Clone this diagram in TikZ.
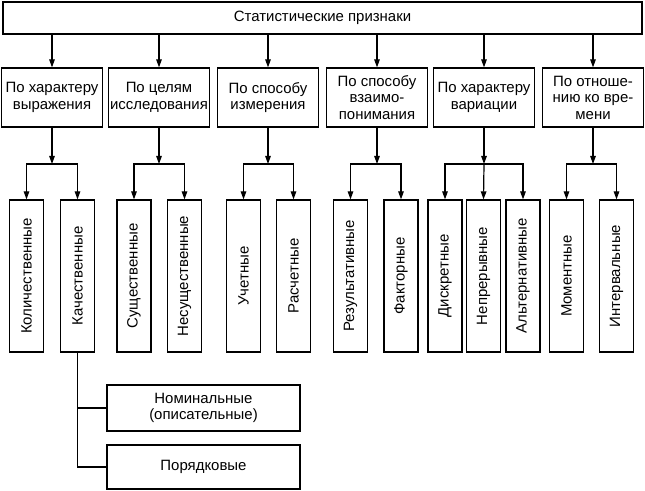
\documentclass[tikz,border=0pt]{standalone}
\usepackage{fontspec}
\setmainfont{Liberation Sans}
\usetikzlibrary{arrows.meta}
\tikzset{
  box/.style={draw, line width=1.2bp, inner sep=0pt, align=center,
    font=\fontsize{15}{16.5}\selectfont},
  pbox/.style={box, minimum width=101bp, minimum height=59bp},
  vbox/.style={box, rotate=90, minimum width=152bp, minimum height=34bp},
  hbox/.style={box, minimum width=193bp},
  link/.style={line width=1.2bp},
  arr/.style={link, -{Triangle[length=8bp,width=5.5bp]}}
}
\begin{document}
\begin{tikzpicture}[x=1bp, y=-1bp]
  \useasboundingbox (0,0) rectangle (645,491);

  % Корень
  \node[box, minimum width=639bp, minimum height=32bp] (root) at (322.5,18) {Статистические признаки};

  % Основания группировки
  \node[pbox] (expr) at (52,97.5)  {По характеру\\выражения};
  \node[pbox] (goal) at (159,97.5) {По целям\\исследования};
  \node[pbox] (meas) at (268,97.5) {По способу\\измерения};
  \node[pbox] (mutu) at (377,97.5) {По способу\\взаимо-\\понимания};
  \node[pbox] (vari) at (484,97.5) {По характеру\\вариации};
  \node[pbox] (time) at (593,97.5) {По отноше-\\нию ко вре-\\мени};

  % Виды признаков
  \node[vbox] (kol)  at (26.5,276)  {Количественные};
  \node[vbox] (kach) at (77.5,276)  {Качественные};
  \node[vbox] (sush) at (134,276)   {Существенные};
  \node[vbox] (nesu) at (184.5,276) {Несущественные};
  \node[vbox] (uch)  at (243.5,276) {Учетные};
  \node[vbox] (ras)  at (293.5,276) {Расчетные};
  \node[vbox] (rez)  at (350.5,276) {Результативные};
  \node[vbox] (fak)  at (401,276)   {Факторные};
  \node[vbox] (dis)  at (445,276)   {Дискретные};
  \node[vbox] (nep)  at (483.5,276) {Непрерывные};
  \node[vbox] (alt)  at (523,276)   {Альтернативные};
  \node[vbox] (mom)  at (566.5,276) {Моментные};
  \node[vbox] (int)  at (616.5,276) {Интервальные};

  % Качественные признаки
  \node[hbox, minimum height=46bp] (nom) at (203.5,408) {Номинальные\\(описательные)};
  \node[hbox, minimum height=44bp] (por) at (203.5,467) {Порядковые};

  % Стрелки от корня
  \foreach \g in {expr,goal,meas,mutu,vari,time}
    \draw[arr] (root.south -| \g.north) -- (\g.north);

  % Узлы разветвления
  \coordinate (jexpr) at (52,164);
  \coordinate (jgoal) at (159,164);
  \coordinate (jmeas) at (268,164);
  \coordinate (jmutu) at (377,164);
  \coordinate (jvari) at (484,164);
  \coordinate (jtime) at (593,164);

  \foreach \g/\a/\b in {expr/kol/kach, goal/sush/nesu, meas/uch/ras,
                        mutu/rez/fak, vari/dis/alt, time/mom/int} {
    \draw[arr] (\g.south) -- (j\g);
    \draw[arr] (j\g) -| (\a.east);
    \draw[arr] (j\g) -| (\b.east);
  }
  \draw[arr] (jvari) -- (nep.east);

  \draw[link] (kach.west) |- (nom.west);
  \draw[link] (kach.west) |- (por.west);

\end{tikzpicture}
\end{document}
